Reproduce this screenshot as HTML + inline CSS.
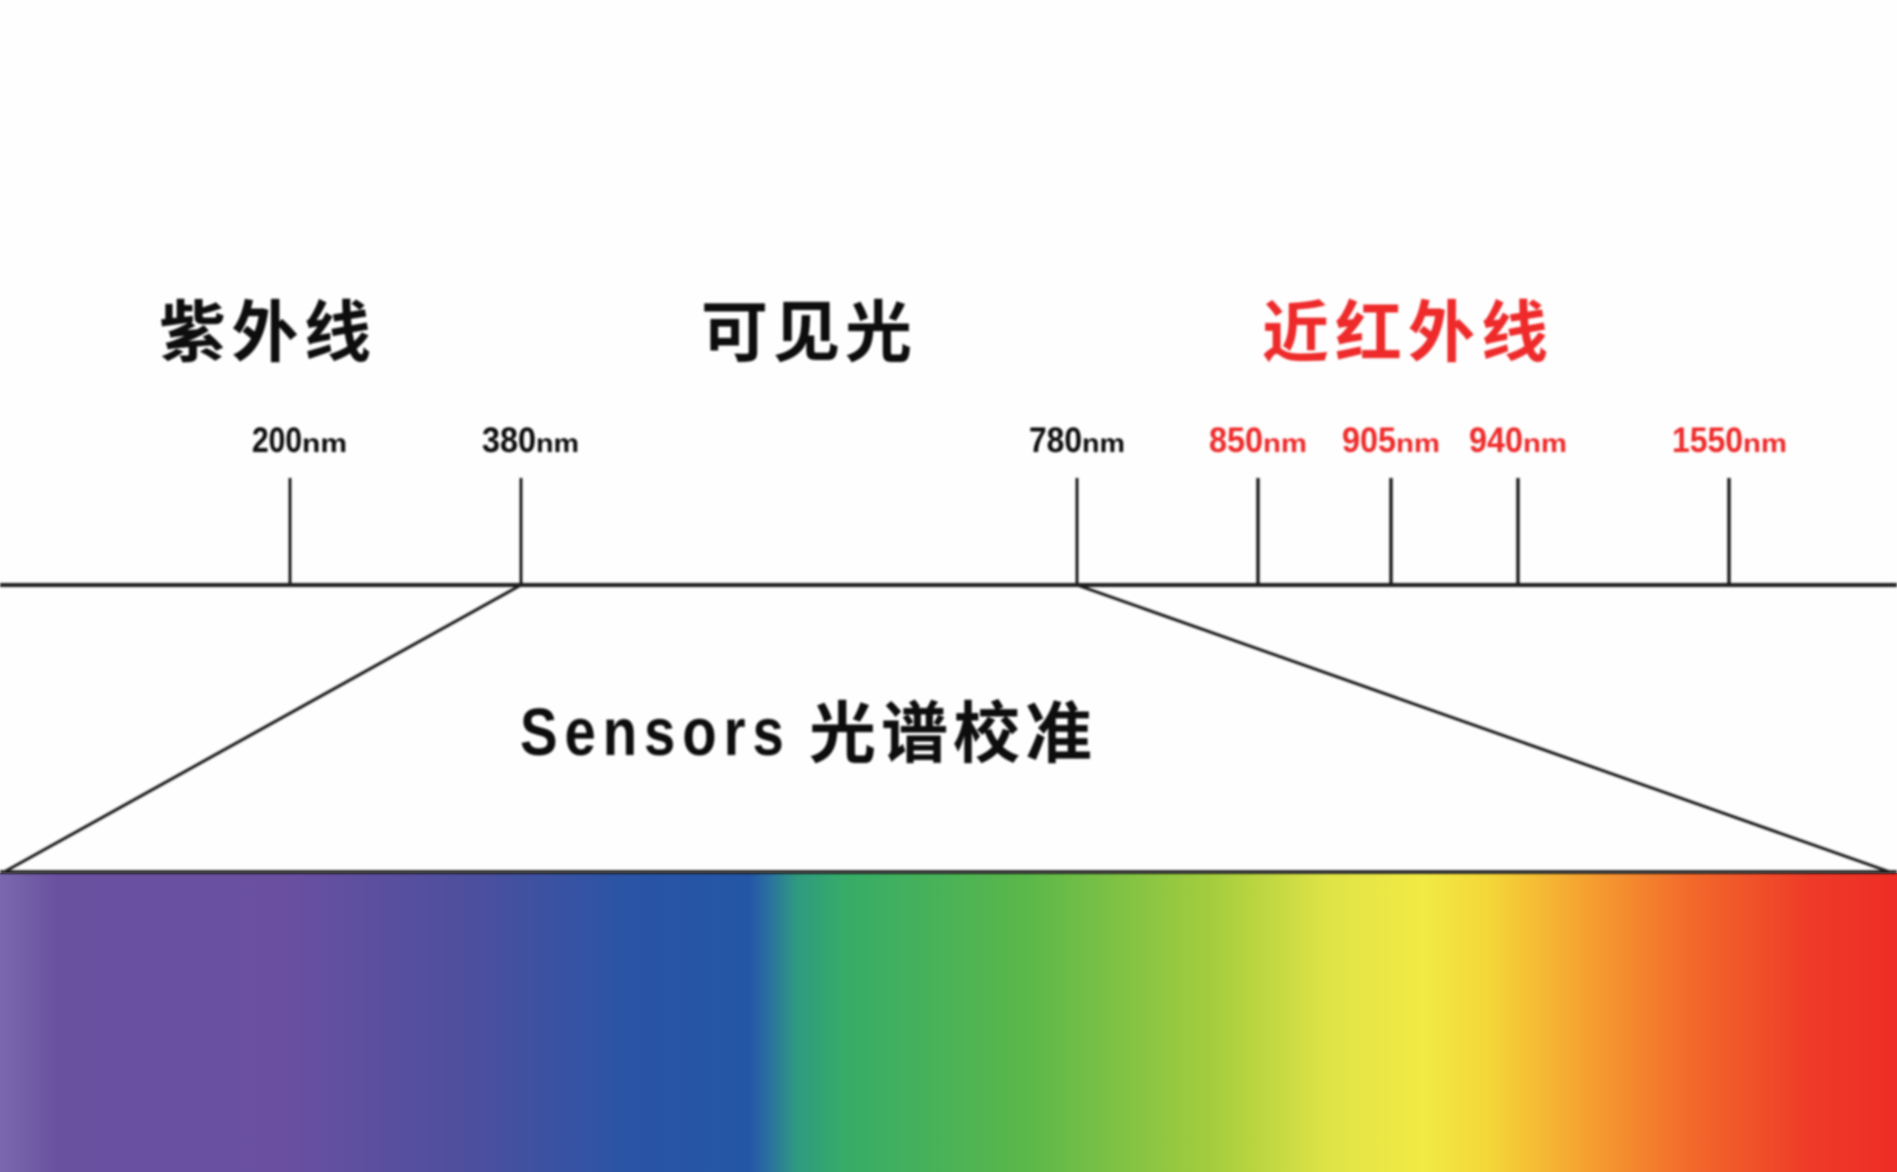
<!DOCTYPE html>
<html lang="zh">
<head>
<meta charset="utf-8">
<style>
html,body{margin:0;padding:0;background:#fefefe;width:1897px;height:1172px;overflow:hidden}
svg{display:block}
.cn{font-family:"Liberation Sans","Noto Sans CJK SC",sans-serif;font-weight:700;font-size:67px}
.num{font-family:"Liberation Sans",sans-serif;font-weight:700;font-size:35px}
.nm{font-family:"Liberation Sans",sans-serif;font-weight:700;font-size:26px}
.k{fill:#111}.r{fill:#ee2c2c}
</style>
</head>
<body>
<svg width="1897" height="1172" viewBox="0 0 1897 1172" xmlns="http://www.w3.org/2000/svg">
<defs>
<linearGradient id="sp" x1="0" x2="1" y1="0" y2="0">
<stop offset="0" stop-color="#7a68ae"/>
<stop offset="0.03" stop-color="#6a51a0"/>
<stop offset="0.15" stop-color="#6a4fa0"/>
<stop offset="0.25" stop-color="#4c4f9e"/>
<stop offset="0.33" stop-color="#2a54a5"/>
<stop offset="0.395" stop-color="#2456a6"/>
<stop offset="0.405" stop-color="#2a6fa0"/>
<stop offset="0.42" stop-color="#2f9a80"/>
<stop offset="0.445" stop-color="#36ac68"/>
<stop offset="0.54" stop-color="#5ab74a"/>
<stop offset="0.64" stop-color="#a5cd3e"/>
<stop offset="0.70" stop-color="#dfe346"/>
<stop offset="0.75" stop-color="#f2ea45"/>
<stop offset="0.785" stop-color="#f4d638"/>
<stop offset="0.83" stop-color="#f6a731"/>
<stop offset="0.89" stop-color="#f26a2b"/>
<stop offset="0.955" stop-color="#ee3a28"/>
<stop offset="1" stop-color="#ee2d26"/>
</linearGradient>
<filter id="b" x="-5%" y="-5%" width="110%" height="110%"><feGaussianBlur stdDeviation="1"/></filter>
</defs>
<rect width="1897" height="1172" fill="#fefefe"/>
<rect x="0" y="873" width="1897" height="299" fill="url(#sp)"/>
<g filter="url(#b)">
<g stroke="#1a1a1a" fill="none">
<line x1="0" y1="585" x2="1897" y2="585" stroke-width="4"/>
<line x1="290" y1="478" x2="290" y2="585" stroke-width="3"/>
<line x1="521" y1="478" x2="521" y2="585" stroke-width="3"/>
<line x1="1077" y1="478" x2="1077" y2="585" stroke-width="3"/>
<line x1="1258" y1="478" x2="1258" y2="585" stroke-width="3.4"/>
<line x1="1391" y1="478" x2="1391" y2="585" stroke-width="3.4"/>
<line x1="1518" y1="478" x2="1518" y2="585" stroke-width="3.4"/>
<line x1="1729" y1="478" x2="1729" y2="585" stroke-width="3.4"/>
<line x1="521" y1="585" x2="4" y2="872" stroke-width="3"/>
<line x1="1077" y1="585" x2="1890" y2="872" stroke-width="3"/>
<line x1="0" y1="872" x2="1897" y2="872" stroke-width="3.5"/>
</g>
<text class="cn k" x="159" y="356" textLength="212" lengthAdjust="spacing">紫外线</text>
<text class="cn k" x="701" y="356" textLength="211" lengthAdjust="spacing">可见光</text>
<text class="cn r" x="1262" y="356" textLength="286" lengthAdjust="spacing">近红外线</text>
<text class="num k" x="252" y="452" textLength="50" lengthAdjust="spacingAndGlyphs">200</text>
<text class="nm k" x="302" y="452" textLength="45" lengthAdjust="spacingAndGlyphs">nm</text>
<text class="num k" x="482" y="452" textLength="54" lengthAdjust="spacingAndGlyphs">380</text>
<text class="nm k" x="536" y="452" textLength="43" lengthAdjust="spacingAndGlyphs">nm</text>
<text class="num k" x="1029" y="452" textLength="53" lengthAdjust="spacingAndGlyphs">780</text>
<text class="nm k" x="1082" y="452" textLength="43" lengthAdjust="spacingAndGlyphs">nm</text>
<text class="num r" x="1209" y="452" textLength="54" lengthAdjust="spacingAndGlyphs">850</text>
<text class="nm r" x="1263" y="452" textLength="44" lengthAdjust="spacingAndGlyphs">nm</text>
<text class="num r" x="1342" y="452" textLength="54" lengthAdjust="spacingAndGlyphs">905</text>
<text class="nm r" x="1396" y="452" textLength="44" lengthAdjust="spacingAndGlyphs">nm</text>
<text class="num r" x="1469" y="452" textLength="54" lengthAdjust="spacingAndGlyphs">940</text>
<text class="nm r" x="1523" y="452" textLength="44" lengthAdjust="spacingAndGlyphs">nm</text>
<text class="num r" x="1672" y="452" textLength="71" lengthAdjust="spacingAndGlyphs">1550</text>
<text class="nm r" x="1743" y="452" textLength="44" lengthAdjust="spacingAndGlyphs">nm</text>
<text transform="translate(520 755) scale(.84 1)" font-family="'Liberation Sans',sans-serif" font-weight="700" font-size="67" fill="#111" textLength="314" lengthAdjust="spacing">Sensors</text>
<text class="cn k" x="809" y="757" textLength="283" lengthAdjust="spacing">光谱校准</text>
</g>
</svg>
</body>
</html>
